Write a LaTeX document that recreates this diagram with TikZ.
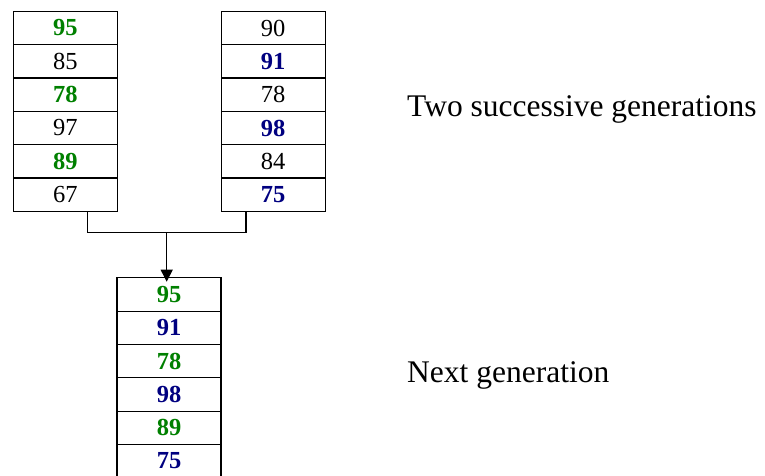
\documentclass[tikz,border=0pt]{standalone}
\usepackage{fontspec}
\setmainfont{Liberation Serif}
\usetikzlibrary{arrows.meta}
\definecolor{selgreen}{RGB}{0,128,0}
\definecolor{selblue}{RGB}{0,0,128}
\begin{document}
\begin{tikzpicture}[x=1pt,y=-1pt,
  cell/.style={draw, line width=1.1pt, minimum width=104pt, minimum height=33.3pt,
    inner sep=0pt, font=\fontsize{24.5}{24.5}\selectfont},
  gsel/.style={text=selgreen, font=\fontsize{24.5}{24.5}\selectfont\bfseries},
  bsel/.style={text=selblue, font=\fontsize{24.5}{24.5}\selectfont\bfseries},
  caption/.style={anchor=base west, inner sep=0pt, font=\fontsize{31.5}{36}\selectfont},
  link/.style={line width=1.1pt}]
\useasboundingbox (0,0) rectangle (765,475);
\clip (0,0) rectangle (765,475);
% left parent
\node[cell,gsel] (L1) at (65.3,28.0) {95};
\node[cell] (L2) at (65.3,61.3) {85};
\node[cell,gsel] (L3) at (65.3,94.6) {78};
\node[cell] (L4) at (65.3,128.0) {97};
\node[cell,gsel] (L5) at (65.3,161.3) {89};
\node[cell] (L6) at (65.3,194.6) {67};
% right parent
\node[cell] (R1) at (273.2,28.0) {90};
\node[cell,bsel] (R2) at (273.2,61.3) {91};
\node[cell] (R3) at (273.2,94.6) {78};
\node[cell,bsel] (R4) at (273.2,128.0) {98};
\node[cell] (R5) at (273.2,161.3) {84};
\node[cell,bsel] (R6) at (273.2,194.6) {75};
% child
\node[cell,gsel] (B1) at (169.0,294.4) {95};
\node[cell,bsel] (B2) at (169.0,327.7) {91};
\node[cell,gsel] (B3) at (169.0,361.0) {78};
\node[cell,bsel] (B4) at (169.0,394.4) {98};
\node[cell,gsel] (B5) at (169.0,427.7) {89};
\node[cell,bsel] (B6) at (169.0,461.0) {75};
% connectors
\coordinate (J) at (166.7,232.5);
\draw[link] ([xshift=22pt]L6.south) |- (J) -| ([xshift=-27.2pt]R6.south);
\draw[link,-{Triangle[length=12pt,width=12pt]}] (J) -- ([yshift=-4.5pt]B1.north -| J);
% captions
\node[caption] (T1) at (407,116) {Two successive generations};
\node[caption] (T2) at (407,382) {Next generation};
\end{tikzpicture}
\end{document}
